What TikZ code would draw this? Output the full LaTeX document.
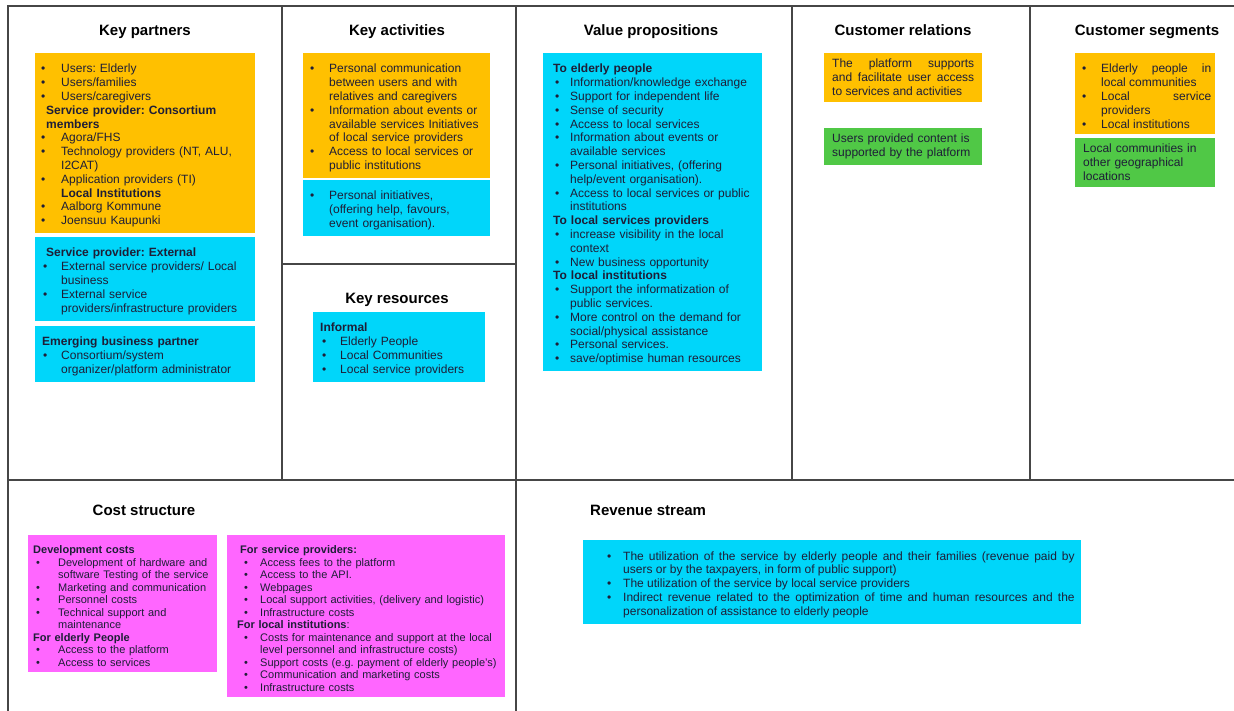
\documentclass[tikz,border=0pt]{standalone}
\usepackage{fontspec}
\setmainfont{Liberation Sans}
\usetikzlibrary{positioning}
\definecolor{YL}{RGB}{255,192,0}
\definecolor{CY}{RGB}{0,214,250}
\definecolor{GR}{RGB}{80,200,70}
\definecolor{PK}{RGB}{255,102,255}
\definecolor{FR}{RGB}{70,70,70}
\definecolor{TX}{RGB}{30,30,55}

% bullet list helpers
\newlength{\bulx}\newlength{\txtx}
\setlength{\bulx}{3pt}\setlength{\txtx}{22pt}
\newcommand{\setind}[2]{\setlength{\bulx}{#1}\setlength{\txtx}{#2}}
\newcommand{\itm}[1]{\par\hangindent=\txtx\hangafter=1\noindent\hbox to\txtx{\hskip\bulx\textbullet\hfil}#1}
\newcommand{\hd}[2][0pt]{\par\begingroup\leftskip=#1\relax\noindent\textbf{#2}\par\endgroup}
\newcommand{\br}{\hfil\break}
\hyphenpenalty=10000
\exhyphenpenalty=10000
\frenchspacing
\setlength{\parindent}{0pt}
\setlength{\parskip}{0pt}

\begin{document}
\frenchspacing
\begin{tikzpicture}[
  x=1pt, y=-1pt,
  frame/.style={draw=FR, line width=1.1pt},
  ttl/.style={font=\fontsize{15}{18}\selectfont\bfseries, inner sep=0pt},
  box/.style={fill=#1, anchor=north west, align=left, inner xsep=4pt, inner ysep=6pt,
              text=TX, font=\fontsize{12}{13.8}\selectfont},
  sbox/.style={box=#1, font=\fontsize{11}{12.5}\selectfont}
]
\useasboundingbox (0,0) rectangle (1234,711);

% canvas grid
\draw[frame] (8,711) -- (8,6) -- (1234,6);
\draw[frame] (8,480) -- (1234,480);
\draw[frame] (282,6) -- (282,480);
\draw[frame] (516,6) -- (516,711);
\draw[frame] (792,6) -- (792,480);
\draw[frame] (1030,6) -- (1030,480);
\draw[frame] (282,264) -- (516,264);

% titles
\node[ttl, anchor=base] (kpT) at (145,35.5) {Key partners};
\node[ttl, anchor=base] (kaT) at (397,35.5) {Key activities};
\node[ttl, anchor=base] (krT) at (397,304) {Key resources};
\node[ttl, anchor=base] (vpT) at (651,35.5) {Value propositions};
\node[ttl, anchor=base] (crT) at (903,35.5) {Customer relations};
\node[ttl, anchor=base] (csT) at (1147,35.5) {Customer segments};
\node[ttl, anchor=base] (coT) at (144,515) {Cost structure};
\node[ttl, anchor=base west] (rvT) at (590,515) {Revenue stream};

% key partners
\node[box=YL, text width=212pt] (kp1) at (35,53) {\setind{2pt}{22pt}%
  \itm{Users: Elderly}
  \itm{Users/families}
  \itm{Users/caregivers}
  \hd[7pt]{Service provider: Consortium\br members}
  \itm{Agora/FHS}
  \itm{Technology providers (NT, ALU,\br I2CAT)}
  \itm{Application providers (TI)}
  \hd[22pt]{Local Institutions}
  \itm{Aalborg Kommune}
  \itm{Joensuu Kaupunki}\par};
\node[box=CY, text width=212pt] (kp2) at (35,237) {\setind{4pt}{22pt}%
  \hd[7pt]{Service provider: External}
  \itm{External service providers/ Local\br business}
  \itm{External service\br providers/infrastructure providers}\par};
\node[box=CY, text width=212pt] (kp3) at (35,326) {\setind{4pt}{22pt}%
  \hd[3pt]{Emerging business partner}
  \itm{Consortium/system\br organizer/platform administrator}\par};

% key activities
\node[box=YL, text width=179pt] (ka1) at (303,53) {%
  \itm{Personal communication\br between users and with\br relatives and caregivers}
  \itm{Information about events or\br available services Initiatives\br of local service providers}
  \itm{Access to local services or\br public institutions}\par};
\node[box=CY, text width=179pt] (ka2) at (303,180) {%
  \itm{Personal initiatives,\br (offering help, favours,\br event organisation).}\par};

% key resources
\node[box=CY, text width=164pt] (kr1) at (313,312) {\setind{5pt}{23pt}%
  \hd[3pt]{Informal}
  \itm{Elderly People}
  \itm{Local Communities}
  \itm{Local service providers}\par};

% value propositions
\node[box=CY, text width=211pt] (vp1) at (543,53) {\setind{8pt}{23pt}%
  \hd[6pt]{To elderly people}
  \itm{Information/knowledge exchange}
  \itm{Support for independent life}
  \itm{Sense of security}
  \itm{Access to local services}
  \itm{Information about events or\br available services}
  \itm{Personal initiatives, (offering\br help/event organisation).}
  \itm{Access to local services or public\br institutions}
  \hd[6pt]{To local services providers}
  \itm{increase visibility in the local\br context}
  \itm{New business opportunity}
  \hd[6pt]{To local institutions}
  \itm{Support the informatization of\br public services.}
  \itm{More control on the demand for\br social/physical assistance}
  \itm{Personal services.}
  \itm{save/optimise human resources}\par};

% customer relations
\node[box=YL, text width=142pt, inner xsep=8pt, align=justify] (cr1) at (824,53) {%
  The platform supports\linebreak and facilitate user access\linebreak to services and activities\par};
\node[box=GR, text width=142pt, inner xsep=8pt] (cr2) at (824,128) {%
  Users provided content is\br supported by the platform\par};

% customer segments
\node[box=YL, text width=132pt, align=justify] (cs1) at (1075,53) {%
  \itm{Elderly people in\linebreak local communities}
  \itm{Local service\linebreak providers}
  \itm{Local institutions}\par};
\node[box=GR, text width=124pt, inner xsep=8pt] (cs2) at (1075,138) {%
  Local communities in\br other geographical\br locations\par};

% cost structure
\node[sbox=PK, text width=181pt] (co1) at (28,535) {\setind{4pt}{26pt}%
  \hd[1pt]{Development costs}
  \itm{Development of hardware and\br software Testing of the service}
  \itm{Marketing and communication}
  \itm{Personnel costs}
  \itm{Technical support and\br maintenance}
  \hd[1pt]{For elderly People}
  \itm{Access to the platform}
  \itm{Access to services}\par};
\node[sbox=PK, text width=270pt] (co2) at (227,535) {\setind{13pt}{29pt}%
  \hd[9pt]{For service providers:}
  \itm{Access fees to the platform}
  \itm{Access to the API.}
  \itm{Webpages}
  \itm{Local support activities, (delivery and logistic)}
  \itm{Infrastructure costs}
  \hd[6pt]{For local institutions\mdseries:}
  \itm{Costs for maintenance and support at the local\br level personnel and infrastructure costs)}
  \itm{Support costs (e.g. payment of elderly people's)}
  \itm{Communication and marketing costs}
  \itm{Infrastructure costs}\par};

% revenue stream
\node[box=CY, text width=485pt, inner xsep=6.5pt, align=justify] (rv1) at (583,540) {\setind{17.5pt}{33.5pt}%
  \itm{The utilization of the service by elderly people and their families (revenue paid by\linebreak users or by the taxpayers, in form of public support)}
  \itm{The utilization of the service by local service providers}
  \itm{Indirect revenue related to the optimization of time and human resources and the\linebreak personalization of assistance to elderly people}\par};
\end{tikzpicture}
\end{document}
